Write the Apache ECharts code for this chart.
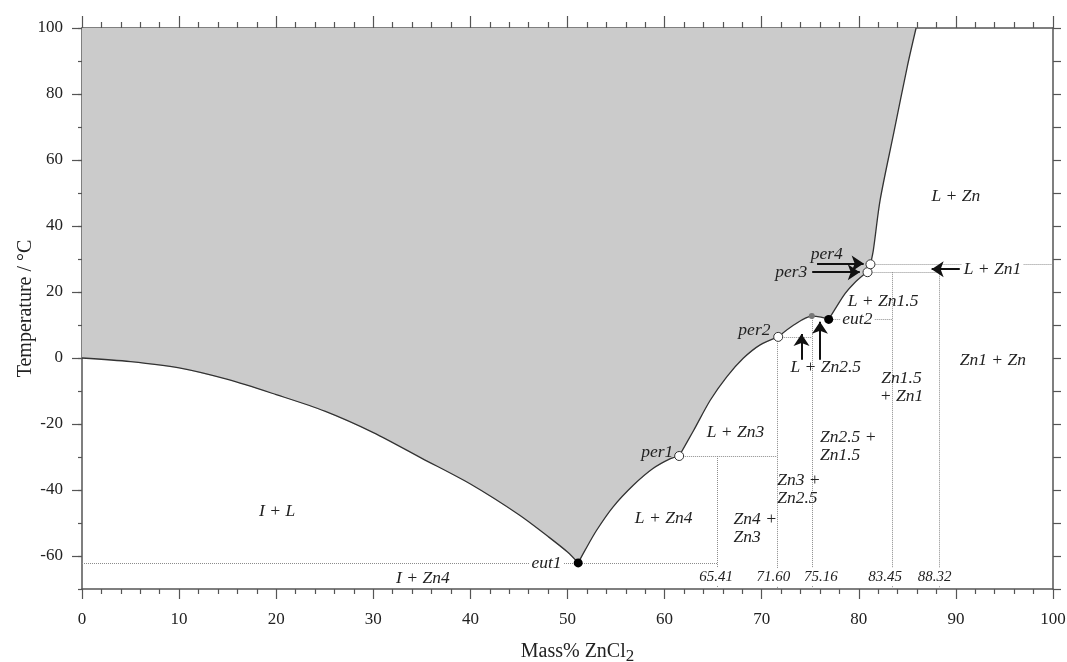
<!DOCTYPE html>
<html>
<head>
<meta charset="utf-8">
<script src="https://cdn.jsdelivr.net/npm/echarts@6/dist/echarts.min.js"></script>
<style>
  html, body { margin: 0; padding: 0; background: #fff; }
  #chart { width: 1067px; height: 662px; }
</style>
</head>
<body>
<div id="chart"></div>
<script>
// Liquidus branches of the ZnCl2–H2O system (mass% ZnCl2, °C)
const iceBranch  = [[0,0],[5,-1.1],[10,-3],[15,-6.5],[20,-11.1],[25,-16.1],[30,-22.6],[35,-30.4],[40,-38.2],[45,-47.5],[48,-54.1],[50,-58.8],[51.1,-62.1]];
const zn4Branch  = [[51.1,-62.1],[51.8,-58.3],[53.0,-52.2],[54.7,-45.1],[56.8,-38.5],[58.8,-33.5],[60.6,-30.5],[61.5,-29.7]];
const zn3Branch  = [[61.5,-29.7],[63.0,-21.9],[64.7,-12.8],[66.4,-5.7],[68.1,-0.1],[69.8,3.9],[71.7,6.4]];
const zn25Branch = [[71.7,6.4],[73.3,10.0],[75.16,12.7],[76.1,12.4],[76.9,11.7]];
const zn15Branch = [[76.9,11.7],[77.7,15.5],[78.6,19.6],[79.5,22.6],[80.5,25.2],[80.9,26.0]];
const zn1Branch  = [[80.9,26.0],[81.2,28.4]];
const znBranch   = [[81.2,28.4],[81.5,32.7],[82.2,47.9],[83.6,68.2],[85.0,88.4],[85.9,100]];

// Invariant points
const eutectics   = [[51.1,-62.1],[76.9,11.7]];
const peritectics = [[61.5,-29.7],[71.7,6.4],[80.9,26.0],[81.2,28.4]];
const congruent   = [[75.16,12.7]];

// Tie lines (horizontal) and compound compositions (vertical)
const tieLines = [
  [[0,-62.1],[65.41,-62.1]],
  [[61.5,-29.7],[71.6,-29.7]],
  [[71.7,6.4],[75.16,6.4]],
  [[76.9,11.7],[83.45,11.7]],
  [[80.9,26.0],[88.32,26.0]],
  [[81.2,28.4],[100,28.4]]
];
const compounds      = [65.41, 71.60, 75.16, 83.45, 88.32];
const compoundTops   = [-29.7, 6.4, 12.7, 26.0, 28.4];
const compoundLabelX = [65.3, 71.2, 76.1, 82.7, 87.8];

// Pointer arrows
const arrows = [
  [[75.7,28.6],[80.5,28.6]],
  [[75.2,26.0],[80.1,26.0]],
  [[90.4,26.9],[87.5,26.9]],
  [[74.1,-0.5],[74.1,7.3]],
  [[76.0,-0.5],[76.0,11.0]]
];

// Field labels
const centerLabels = [
  ['I + L', 20.1, -46.6],
  ['I + Zn4', 35.1, -66.8],
  ['L + Zn4', 59.9, -48.7],
  ['L + Zn3', 67.3, -22.4],
  ['L + Zn2.5', 76.6, -3.0],
  ['L + Zn1.5', 82.5, 17.1],
  ['Zn1.5\n+ Zn1', 84.4, -8.8],
  ['Zn1 + Zn', 93.8, -0.6],
  ['L + Zn', 90.0, 49.1],
  ['per4', 76.7, 31.4]
];
const leftLabels = [
  ['Zn4 +\nZn3', 67.1, -51.5],
  ['Zn3 +\nZn2.5', 71.6, -39.7],
  ['Zn2.5 +\nZn1.5', 76.0, -26.9]
];
const rightLabels = [
  ['per1', 60.9, -28.6],
  ['per2', 70.9, 8.4],
  ['per3', 74.7, 26.0]
];
const boxedRightLabels = [['eut1', 49.6, -62.1]];
const boxedLeftLabels  = [['eut2', 78.1, 11.7], ['L + Zn1', 90.6, 26.9]];

const yMajorTicks = [-60,-40,-20,0,20,40,60,80,100];

const serif = 'Liberation Serif';
const ink = '#222';
const frame = '#555';
const dotted = '#8c8c8c';

const areaData = [].concat(iceBranch, zn4Branch.slice(1), zn3Branch.slice(1),
  zn25Branch.slice(1), zn15Branch.slice(1), zn1Branch.slice(1), znBranch.slice(1));

function branch(data) {
  return {
    type: 'line', data: data, smooth: 0.3,
    symbol: 'none', silent: true, z: 4,
    lineStyle: { color: '#333', width: 1.3 }
  };
}

function labelSeries(items, opts) {
  return {
    type: 'scatter', symbolSize: 0.001, silent: true, z: 8,
    itemStyle: { opacity: 1 },
    data: items.map(d => ({ name: d[0], value: [d[1], d[2]] })),
    label: Object.assign({
      show: true, formatter: '{b}', color: ink, opacity: 1,
      fontFamily: serif, fontStyle: 'italic', fontSize: 17.5, lineHeight: 18
    }, opts)
  };
}

const compoundLines = compounds.map((x, i) => [[x, compoundTops[i]], [x, -70]]);
const compoundLabels = compounds.map((x, i) => [x.toFixed(2), compoundLabelX[i], -66.4]);

const lineOf = { show: true, onZero: false, lineStyle: { color: frame, width: 1.5 } };
const tickStyle = { color: frame, width: 1.2 };

const option = {
  animation: false,
  grid: { left: 82, right: 14, top: 28, bottom: 73, outerBoundsMode: 'none', containLabel: false },
  xAxis: [
    {
      type: 'value', min: 0, max: 100, interval: 10, position: 'bottom',
      name: 'Mass% ZnCl{sub|2}', nameLocation: 'middle', nameGap: 49, nameMoveOverlap: false,
      nameTextStyle: {
        fontFamily: serif, fontSize: 20, color: ink, padding: [0, 0, 0, 20],
        rich: { sub: { fontFamily: serif, fontSize: 17, color: ink, padding: [10, 0, 0, 0] } }
      },
      axisLine: lineOf,
      axisTick: { show: true, inside: false, length: 10, lineStyle: tickStyle },
      minorTick: { show: true, splitNumber: 5, length: 5, lineStyle: tickStyle },
      axisLabel: { fontFamily: serif, fontSize: 17, color: ink, margin: 22 },
      splitLine: { show: false }
    },
    {
      type: 'value', min: 0, max: 100, interval: 10, position: 'top',
      axisLine: lineOf,
      axisTick: { show: true, inside: false, length: 12, lineStyle: tickStyle },
      minorTick: { show: true, splitNumber: 5, length: 6, lineStyle: tickStyle },
      axisLabel: { show: false },
      splitLine: { show: false }
    }
  ],
  yAxis: [
    {
      type: 'value', min: -70, max: 100, interval: 10, position: 'left',
      axisLine: lineOf,
      axisTick: { show: true, inside: false, length: 4, lineStyle: tickStyle },
      axisLabel: { show: false },
      splitLine: { show: false }
    },
    {
      type: 'value', min: -70, max: 100, position: 'left',
      name: 'Temperature / °C', nameLocation: 'middle', nameGap: 46, nameMoveOverlap: false,
      nameTextStyle: { fontFamily: serif, fontSize: 20, color: ink },
      axisLine: { show: false, onZero: false },
      axisTick: { show: true, inside: false, length: 10, customValues: yMajorTicks, lineStyle: tickStyle },
      axisLabel: { fontFamily: serif, fontSize: 17, color: ink, margin: 19, customValues: yMajorTicks },
      splitLine: { show: false }
    },
    {
      type: 'value', min: -70, max: 100, interval: 10, position: 'right',
      axisLine: lineOf,
      axisTick: { show: true, inside: false, length: 8, lineStyle: tickStyle },
      axisLabel: { show: false },
      splitLine: { show: false }
    }
  ],
  series: [
    {
      type: 'line', data: areaData, symbol: 'none', silent: true, z: 1,
      lineStyle: { width: 0 },
      areaStyle: { color: '#cbcbcb', opacity: 1, origin: 'end' }
    },
    branch(iceBranch), branch(zn4Branch), branch(zn3Branch), branch(zn25Branch),
    branch(zn15Branch), branch(zn1Branch), branch(znBranch),
    {
      type: 'lines', coordinateSystem: 'cartesian2d', silent: true, z: 3,
      data: tieLines.concat(compoundLines).map(c => ({ coords: c })),
      lineStyle: { color: dotted, width: 1, type: [1, 1], opacity: 1 }
    },
    {
      type: 'lines', coordinateSystem: 'cartesian2d', silent: true, z: 9,
      symbol: ['none', 'arrow'], symbolSize: [8, 12],
      data: arrows.map(c => ({ coords: c })),
      lineStyle: { color: '#111', width: 2, opacity: 1 }
    },
    labelSeries(centerLabels, { position: 'inside', align: 'center', verticalAlign: 'middle' }),
    labelSeries(leftLabels, { position: 'inside', align: 'left', verticalAlign: 'middle' }),
    labelSeries(rightLabels, { position: 'inside', align: 'right', verticalAlign: 'middle' }),
    labelSeries(boxedRightLabels, { position: 'inside', align: 'right', verticalAlign: 'middle', backgroundColor: '#fff', padding: [0, 2, 0, 2] }),
    labelSeries(boxedLeftLabels, { position: 'inside', align: 'left', verticalAlign: 'middle', backgroundColor: '#fff', padding: [0, 2, 0, 2] }),
    labelSeries(compoundLabels,
      { position: 'inside', align: 'center', verticalAlign: 'middle', fontSize: 15, backgroundColor: '#fff', padding: [0, 1, 0, 1] }),
    {
      type: 'scatter', data: peritectics, symbol: 'circle', symbolSize: 9, silent: true, z: 10,
      itemStyle: { color: '#fff', borderColor: '#333', borderWidth: 1, opacity: 1 }
    },
    {
      type: 'scatter', data: eutectics, symbol: 'circle', symbolSize: 9, silent: true, z: 10,
      itemStyle: { color: '#000', opacity: 1 }
    },
    {
      type: 'scatter', data: congruent, symbol: 'circle', symbolSize: 6, silent: true, z: 10,
      itemStyle: { color: '#777', opacity: 1 }
    }
  ]
};

echarts.init(document.getElementById('chart'), null, { renderer: 'canvas' }).setOption(option);
</script>
</body>
</html>
